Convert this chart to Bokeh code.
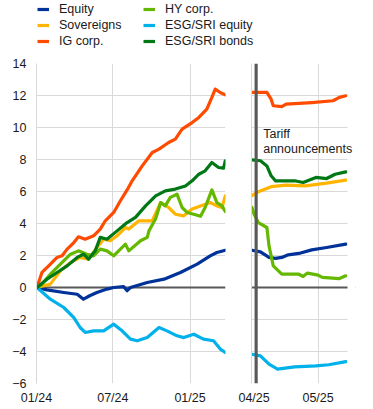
import pandas as pd
from bokeh.plotting import figure
from bokeh.models import (ColumnDataSource, Range1d, FixedTicker, DatetimeTickFormatter,
                          Span, Label, Legend, LegendItem, BoxAnnotation)
from bokeh.layouts import column, row
from bokeh.embed import file_html
from bokeh.resources import INLINE

# ---------------- data ----------------
series_names = ["Equity", "Sovereigns", "IG corp.", "HY corp.", "ESG/SRI equity", "ESG/SRI bonds"]
series_colors = ["#003299", "#FFB400", "#FF4B00", "#65B800", "#00B1EA", "#007816"]

y_ticks = [-6, -4, -2, 0, 2, 4, 6, 8, 10, 12, 14]
left_ticks = ["2024-01-01", "2024-07-01", "2025-01-01"]
right_ticks = ["2025-04-01", "2025-05-01"]
tariff_date = "2025-04-02"
tariff_text = ["Tariff", "announcements"]

# left panel (Jan 2024 - Mar 2025)
eq_l_dates = ["2024-01-02", "2024-01-26", "2024-03-06", "2024-04-07", "2024-04-22", "2024-05-08", "2024-05-24",
              "2024-06-17", "2024-07-03", "2024-07-27", "2024-08-04", "2024-08-12", "2024-09-21", "2024-10-31",
              "2024-12-09", "2025-01-18", "2025-02-18", "2025-03-06", "2025-03-26"]
eq_l_vals = [0.0, -0.15, -0.31, -0.42, -0.73, -0.5, -0.31, -0.1, 0.0, 0.05, -0.2, 0.0, 0.31, 0.52,
             0.94, 1.46, 1.98, 2.19, 2.33]

sov_l_dates = ["2024-01-02", "2024-02-03", "2024-02-27", "2024-03-22", "2024-04-14", "2024-05-04", "2024-05-24",
               "2024-06-09", "2024-06-25", "2024-07-11", "2024-07-31", "2024-08-08", "2024-09-01", "2024-10-03",
               "2024-10-23", "2024-11-11", "2024-11-27", "2024-12-17", "2025-01-06", "2025-01-26", "2025-02-18",
               "2025-03-06", "2025-03-18", "2025-03-26"]
sov_l_vals = [0.0, 0.21, 1.04, 1.56, 1.88, 1.77, 2.5, 3.02, 2.92, 3.23, 3.75, 3.65, 4.17, 4.17,
              5.31, 5.0, 4.58, 4.48, 4.9, 5.1, 5.31, 5.1, 5.0, 5.73]

ig_l_dates = ["2024-01-02", "2024-01-14", "2024-01-30", "2024-02-19", "2024-03-02", "2024-03-14", "2024-03-30",
              "2024-04-10", "2024-04-26", "2024-05-16", "2024-06-01", "2024-06-13", "2024-07-03", "2024-07-19",
              "2024-08-04", "2024-08-16", "2024-09-09", "2024-10-03", "2024-10-19", "2024-11-11", "2024-11-27",
              "2024-12-13", "2025-01-06", "2025-01-22", "2025-02-10", "2025-02-22", "2025-03-02", "2025-03-14",
              "2025-03-26"]
ig_l_vals = [0.0, 0.94, 1.35, 1.88, 1.98, 2.4, 2.81, 3.17, 3.02, 3.23, 3.65, 4.17, 4.69, 5.42,
             6.1, 6.67, 7.6, 8.44, 8.65, 9.06, 9.27, 9.9, 10.31, 10.63, 11.15, 11.88, 12.4, 12.19, 12.04]

hy_l_dates = ["2024-01-02", "2024-01-10", "2024-02-03", "2024-02-27", "2024-03-22", "2024-04-10", "2024-04-30",
              "2024-05-16", "2024-06-01", "2024-06-17", "2024-07-03", "2024-07-19", "2024-07-31", "2024-08-08",
              "2024-09-05", "2024-09-21", "2024-09-25", "2024-10-11", "2024-10-23", "2024-11-03", "2024-11-15",
              "2024-12-01", "2024-12-13", "2024-12-25", "2025-01-14", "2025-01-26", "2025-02-06", "2025-02-22",
              "2025-03-06", "2025-03-18", "2025-03-26"]
hy_l_vals = [0.0, 0.1, 0.83, 1.46, 2.08, 2.29, 2.08, 1.98, 2.4, 2.29, 1.98, 2.4, 2.71, 2.29,
             2.92, 3.13, 3.54, 4.3, 5.31, 5.1, 5.63, 5.83, 5.0, 4.69, 4.55, 4.45, 5.0, 6.1,
             5.3, 5.1, 4.75]

esgeq_l_dates = ["2024-01-02", "2024-02-03", "2024-03-06", "2024-03-30", "2024-04-14", "2024-04-26", "2024-05-16",
                 "2024-06-09", "2024-07-03", "2024-07-23", "2024-08-12", "2024-08-28", "2024-09-21", "2024-10-19",
                 "2024-11-07", "2024-12-01", "2024-12-17", "2025-01-10", "2025-02-02", "2025-02-26", "2025-03-14",
                 "2025-03-26"]
esgeq_l_vals = [0.0, -0.73, -1.25, -1.88, -2.5, -2.81, -2.71, -2.71, -2.29, -2.71, -3.23, -3.33, -3.13, -2.5,
                -2.71, -3.02, -3.13, -2.92, -3.23, -3.33, -3.85, -4.06]

bonds_l_dates = ["2024-01-02", "2024-01-26", "2024-02-19", "2024-03-14", "2024-04-07", "2024-04-22", "2024-05-04",
                 "2024-05-20", "2024-06-01", "2024-06-17", "2024-07-11", "2024-08-04", "2024-08-24", "2024-09-17",
                 "2024-10-11", "2024-11-03", "2024-11-27", "2024-12-21", "2025-01-06", "2025-01-22", "2025-02-06",
                 "2025-02-22", "2025-03-10", "2025-03-22", "2025-03-26"]
bonds_l_vals = [0.0, 0.52, 0.94, 1.35, 1.88, 2.08, 1.77, 2.29, 3.13, 3.02, 3.54, 4.06, 4.38, 5.1,
                5.73, 6.04, 6.15, 6.35, 6.67, 7.08, 7.29, 7.81, 7.5, 7.46, 7.92]

# right panel (end Mar 2025 - mid May 2025)
eq_r_dates = ["2025-03-31", "2025-04-04", "2025-04-08", "2025-04-11", "2025-04-14", "2025-04-17", "2025-04-22",
              "2025-04-28", "2025-05-05", "2025-05-14"]
eq_r_vals = [2.33, 2.23, 1.88, 1.82, 1.88, 2.04, 2.13, 2.35, 2.5, 2.71]

sov_r_dates = ["2025-03-31", "2025-04-03", "2025-04-09", "2025-04-16", "2025-04-25", "2025-05-05", "2025-05-14"]
sov_r_vals = [5.75, 5.98, 6.3, 6.4, 6.35, 6.52, 6.71]

ig_r_dates = ["2025-03-31", "2025-04-07", "2025-04-09", "2025-04-10", "2025-04-14", "2025-04-16", "2025-04-28",
              "2025-05-08", "2025-05-11", "2025-05-14"]
ig_r_vals = [12.2, 12.2, 11.77, 11.36, 11.31, 11.46, 11.56, 11.67, 11.88, 11.98]

hy_r_dates = ["2025-03-31", "2025-04-01", "2025-04-03", "2025-04-07", "2025-04-08", "2025-04-10", "2025-04-14",
              "2025-04-22", "2025-04-24", "2025-04-26", "2025-05-01", "2025-05-03", "2025-05-11", "2025-05-14"]
hy_r_vals = [5.0, 4.58, 4.06, 3.75, 2.6, 1.35, 0.83, 0.83, 0.69, 0.9, 0.77, 0.63, 0.56, 0.73]

esgeq_r_dates = ["2025-03-31", "2025-04-04", "2025-04-08", "2025-04-12", "2025-04-20", "2025-04-30", "2025-05-06",
                 "2025-05-14"]
esgeq_r_vals = [-4.17, -4.27, -4.79, -5.1, -4.96, -4.9, -4.83, -4.63]

bonds_r_dates = ["2025-03-31", "2025-04-04", "2025-04-07", "2025-04-09", "2025-04-11", "2025-04-20", "2025-04-24",
                 "2025-04-30", "2025-05-05", "2025-05-09", "2025-05-14"]
bonds_r_vals = [7.98, 7.92, 7.6, 6.98, 6.67, 6.67, 6.56, 6.88, 6.81, 7.08, 7.23]

left_data = [(eq_l_dates, eq_l_vals), (sov_l_dates, sov_l_vals), (ig_l_dates, ig_l_vals),
             (hy_l_dates, hy_l_vals), (esgeq_l_dates, esgeq_l_vals), (bonds_l_dates, bonds_l_vals)]
right_data = [(eq_r_dates, eq_r_vals), (sov_r_dates, sov_r_vals), (ig_r_dates, ig_r_vals),
              (hy_r_dates, hy_r_vals), (esgeq_r_dates, esgeq_r_vals), (bonds_r_dates, bonds_r_vals)]

# panel windows
left_window = ("2024-01-01", "2025-03-26 12:00")
right_window = ("2025-03-30 19:00", "2025-05-14 19:00")
right_range_end = "2025-05-18 13:00"   # a little room on the right for the annotation text

# ---------------- styling ----------------
FONT = "Liberation Sans"
FS = "12.5px"
TXT = "#1a1a1a"
GRID = "#d9d9d9"
DARK = "#595959"
LW = 3.2


def ms(s):
    return pd.Timestamp(s).timestamp() * 1000.0


def src(dates, vals):
    return ColumnDataSource(dict(x=pd.to_datetime(dates), y=vals))


fmt = DatetimeTickFormatter(days="%m/%y", months="%m/%y", years="%m/%y")


def make_panel(width, x_start, x_end, ticks, data, show_y_labels, border_l, border_r):
    p = figure(width=width, height=356, x_axis_type="datetime",
               x_range=Range1d(ms(x_start), ms(x_end)), y_range=Range1d(y_ticks[0], y_ticks[-1]),
               output_backend="svg", toolbar_location=None,
               min_border_left=border_l, min_border_right=border_r, min_border_top=10, min_border_bottom=26)
    p.outline_line_color = None
    p.background_fill_color = "white"
    p.border_fill_color = "white"
    p.xaxis.ticker = FixedTicker(ticks=[ms(t) for t in ticks])
    p.xaxis.formatter = fmt
    if show_y_labels:
        p.yaxis.ticker = FixedTicker(ticks=y_ticks)
        p.yaxis.major_label_standoff = 10
    else:
        p.yaxis.ticker = FixedTicker(ticks=[])
        p.yaxis.major_label_standoff = 0
    p.ygrid.ticker = FixedTicker(ticks=y_ticks)
    for ax in (p.xaxis, p.yaxis):
        ax.axis_line_color = GRID
        ax.axis_line_width = 1
        ax.major_tick_line_color = None
        ax.minor_tick_line_color = None
        ax.major_tick_out = 0
        ax.major_tick_in = 0
        ax.major_label_text_font = FONT
        ax.major_label_text_font_size = FS
        ax.major_label_text_color = TXT
    p.xaxis.axis_line_color = None   # bottom edge is drawn by the -6 grid line
    p.xaxis.major_label_standoff = 7
    p.grid.grid_line_color = GRID
    p.grid.grid_line_width = 1
    p.add_layout(Span(location=0, dimension="width", line_color=DARK, line_width=2, level="underlay"))
    for (d, v), c in zip(data, series_colors):
        p.line("x", "y", source=src(d, v), line_color=c, line_width=LW, line_join="round", line_cap="round")
    return p


p_left = make_panel(235, left_window[0], left_window[1], left_ticks, left_data, True, 36, 10)
p_right = make_panel(126, right_window[0], right_range_end, right_ticks, right_data, False, 16, 6)

p_right.add_layout(Span(location=ms(tariff_date), dimension="height", line_color=DARK, line_width=3))
# blank out grid and zero line beyond the right panel's window (leaves room for the text)
p_right.add_layout(BoxAnnotation(left=ms(right_window[1]), right=ms(right_range_end) + 86400000.0,
                                 bottom=y_ticks[0] - 1, top=y_ticks[-1] + 1,
                                 fill_color="white", fill_alpha=1.0, line_color=None, level="overlay"))
for txt, yv in zip(tariff_text, [9.6, 8.67]):
    p_right.add_layout(Label(x=ms(tariff_date), y=yv, x_offset=7, text=txt, text_baseline="middle",
                             text_font=FONT, text_font_size=FS, text_color=TXT, level="overlay"))

# ---------------- legend strip ----------------
lg = figure(width=361, height=53, x_range=Range1d(0, 1), y_range=Range1d(0, 1),
            output_backend="svg", toolbar_location=None, min_border=0)
lg.axis.visible = False
lg.grid.visible = False
lg.outline_line_color = None
items = []
for (d, v), c, n in zip(left_data, series_colors, series_names):
    r = lg.line("x", "y", source=src(d, v), line_color=c, line_width=LW, visible=False)
    items.append(LegendItem(label=n, renderers=[r]))

for chunk, xloc in ((items[:3], 37), (items[3:], 143)):
    leg = Legend(items=chunk, location=(xloc, 5), padding=0, margin=0, spacing=2,
                 glyph_width=12, glyph_height=14, label_height=14, label_standoff=10,
                 label_text_font=FONT, label_text_font_size=FS, label_text_color=TXT,
                 border_line_color=None, background_fill_alpha=0, inactive_fill_alpha=0)
    lg.add_layout(leg)

layout = column(lg, row(p_left, p_right))

open("out.html", "w").write(file_html(layout, INLINE))
